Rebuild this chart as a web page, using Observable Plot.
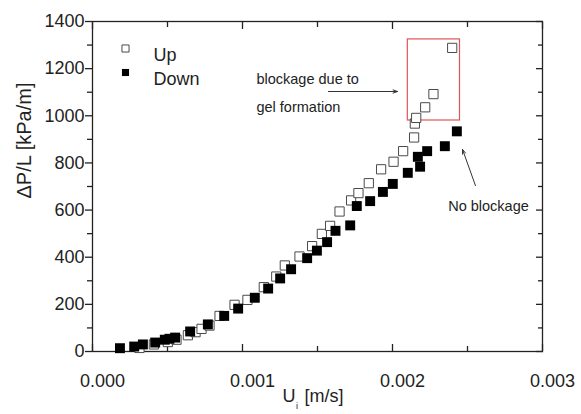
<!DOCTYPE html>
<html><head><meta charset="utf-8">
<script src="https://cdn.jsdelivr.net/npm/d3@7"></script>
<script src="https://cdn.jsdelivr.net/npm/@observablehq/plot@0.6"></script>
<style>body{margin:0;background:#fff}</style>
</head><body><div id="chart"></div>
<script>
// Series "Up" (open squares)
const upX = [0.000313,0.000409,0.000502,0.000560,0.000636,0.000687,0.000727,0.000780,0.000847,0.000947,
  0.001033,0.001142,0.001225,0.001282,0.001380,0.001464,0.001529,0.001584,0.001647,0.001724,
  0.001773,0.001842,0.001924,0.002007,0.002071,0.002144,0.002149,0.002158,0.002218,0.002273,0.002398];
const upY = [15,30,40,50,69,82,96,110,151,198,
  219,273,318,365,403,447,499,533,594,641,
  672,714,773,805,850,908,967,991,1036,1092,1288];
// Series "Down" (filled squares)
const downX = [0.000183,0.000278,0.000336,0.000418,0.000482,0.000513,0.000551,0.000651,0.000769,0.000878,
  0.000971,0.001082,0.001171,0.001251,0.001324,0.001431,0.001496,0.001564,0.001620,0.001718,
  0.001762,0.001851,0.001936,0.002002,0.002102,0.002184,0.002169,0.002231,0.002349,0.002429];
const downY = [14,21,30,38,50,54,59,85,115,151,
  182,228,267,310,349,396,428,464,512,535,
  617,638,677,711,758,784,826,850,871,934];

const seriesNames = ["Up", "Down"];
const xTicks = [0, 0.001, 0.002, 0.003];
const xMinor = [0.0005, 0.0015, 0.0025];
const yTicks = [0, 200, 400, 600, 800, 1000, 1200, 1400];
const yMinor = [100, 300, 500, 700, 900, 1100, 1300];
const xLabelMain = "U", xLabelSub = "i", xLabelUnit = "[m/s]";
const yLabel = "ΔP/L [kPa/m]";

// Annotations (data space)
const boxX = [0.002102, 0.00245];
const boxY = [980, 1324];
const leftNoteTexts = ["blockage due to", "gel formation"];
const leftNoteX = [0.001093, 0.001093];
const leftNoteY = [1154, 1035];
const rightNoteTexts = ["No blockage"];
const rightNoteX = [0.00264];
const rightNoteY = [615];
const arrowX1 = [0.001573, 0.002553];
const arrowY1 = [1103, 704];
const arrowX2 = [0.002033, 0.002467];
const arrowY2 = [1103, 857];

const up = upX.map((x, i) => ({x, y: upY[i]}));
const down = downX.map((x, i) => ({x, y: downY[i]}));
const leftNotes = leftNoteTexts.map((t, i) => ({t, x: leftNoteX[i], y: leftNoteY[i]}));
const rightNotes = rightNoteTexts.map((t, i) => ({t, x: rightNoteX[i], y: rightNoteY[i]}));
const arrows = arrowX1.map((x1, i) => ({x1, y1: arrowY1[i], x2: arrowX2[i], y2: arrowY2[i]}));
const box = [{x1: boxX[0], x2: boxX[1], y1: boxY[0], y2: boxY[1]}];

const INK = "#222";
const FS = 18;
const noLab = () => "";

const chart = Plot.plot({
  width: 581, height: 414,
  marginLeft: 92, marginRight: 39, marginTop: 21, marginBottom: 63,
  style: {fontFamily: "'Liberation Sans', Arial, sans-serif", color: INK, background: "#fff"},
  x: {domain: [0, 0.003]},
  y: {domain: [0, 1400]},
  marks: [
    Plot.frame({stroke: INK, strokeWidth: 1.3}),
    // left: outward ticks with labels
    Plot.axisY({anchor: "left", ticks: yTicks, tickSize: 7, tickPadding: 1, fontSize: FS, tickFormat: d => String(d), label: null, strokeWidth: 1.3}),
    Plot.axisY({anchor: "left", ticks: yMinor, tickSize: 5, tickFormat: noLab, label: null, strokeWidth: 1.3}),
    // right: inward ticks
    Plot.axisY({anchor: "right", ticks: yTicks, tickSize: 7, dx: -7, tickFormat: noLab, label: null, strokeWidth: 1.3}),
    Plot.axisY({anchor: "right", ticks: yMinor, tickSize: 5, dx: -5, tickFormat: noLab, label: null, strokeWidth: 1.3}),
    // top: inward ticks
    Plot.axisX({anchor: "top", ticks: xTicks, tickSize: 7, dy: 7, tickFormat: noLab, label: null, strokeWidth: 1.3}),
    Plot.axisX({anchor: "top", ticks: xMinor, tickSize: 5, dy: 5, tickFormat: noLab, label: null, strokeWidth: 1.3}),
    // bottom: inward ticks + labels
    Plot.axisX({anchor: "bottom", ticks: xTicks, tickSize: 7, dy: -7, tickFormat: noLab, label: null, strokeWidth: 1.3}),
    Plot.axisX({anchor: "bottom", ticks: xMinor, tickSize: 5, dy: -5, tickFormat: noLab, label: null, strokeWidth: 1.3}),
    Plot.axisX({anchor: "bottom", ticks: xTicks, tickSize: 0, tickPadding: 23, dx: 10, fontSize: FS, tickFormat: d3.format(".3f"), label: null}),
    // axis titles
    Plot.text([yLabel], {frameAnchor: "left", dx: -68, dy: 12, rotate: -90, fontSize: 20, fill: INK}),
    Plot.text([xLabelMain], {frameAnchor: "bottom", dx: -35, dy: 50, textAnchor: "start", fontSize: FS, fill: INK}),
    Plot.text([xLabelSub], {frameAnchor: "bottom", dx: -21.5, dy: 57, textAnchor: "start", fontSize: 9, fill: INK}),
    Plot.text([xLabelUnit], {frameAnchor: "bottom", dx: -13, dy: 50, textAnchor: "start", fontSize: FS, fill: INK}),
    // annotation box and arrows
    Plot.rect(box, {x1: "x1", x2: "x2", y1: "y1", y2: "y2", fill: "none", stroke: "#e05555", strokeWidth: 1.2}),
    Plot.arrow(arrows, {x1: "x1", y1: "y1", x2: "x2", y2: "y2", stroke: "#333", strokeWidth: 1, headLength: 7, headAngle: 40}),
    Plot.text(leftNotes, {x: "x", y: "y", text: "t", textAnchor: "start", fontSize: 14.5, fill: INK}),
    Plot.text(rightNotes, {x: "x", y: "y", text: "t", textAnchor: "middle", fontSize: 14.5, fill: INK}),
    // data
    Plot.dot(up, {x: "x", y: "y", symbol: "square", r: 5.2, fill: "#fff", stroke: "#4a4a4a", strokeWidth: 1}),
    Plot.dot(down, {x: "x", y: "y", symbol: "square", r: 5.6, fill: "#000", stroke: "none"}),
    // legend
    Plot.dot([seriesNames[0]], {x: null, y: null, frameAnchor: "top-left", dx: 33, dy: 27, symbol: "square", r: 4, fill: "#fff", stroke: "#4a4a4a", strokeWidth: 1}),
    Plot.dot([seriesNames[1]], {x: null, y: null, frameAnchor: "top-left", dx: 33, dy: 51, symbol: "square", r: 4, fill: "#000", stroke: "none"}),
    Plot.text([seriesNames[0]], {frameAnchor: "top-left", dx: 61, dy: 27, textAnchor: "start", fontSize: FS, fill: INK}),
    Plot.text([seriesNames[1]], {frameAnchor: "top-left", dx: 61, dy: 51, textAnchor: "start", fontSize: FS, fill: INK})
  ]
});
document.getElementById("chart").appendChild(chart);
</script>
</body></html>
